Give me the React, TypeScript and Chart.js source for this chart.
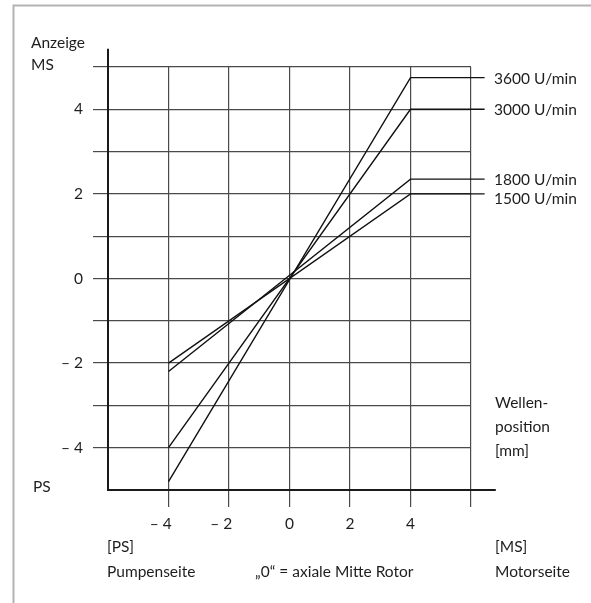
import React, { useEffect, useRef } from "react";
import { Chart, registerables } from "chart.js";

Chart.register(...registerables);

// ---- data ----
const seriesNames = ["3600 U/min", "3000 U/min", "1800 U/min", "1500 U/min"];
const xPositions = [-4, 4, 6.45]; // Wellenposition [mm]; last point = label leader end
const series3600 = [-4.8, 4.75, 4.75];
const series3000 = [-4, 4, 4];
const series1800 = [-2.2, 2.35, 2.35];
const series1500 = [-2, 2, 2];
const seriesValues = [series3600, series3000, series1800, series1500];

const xTickValues = [-4, -2, 0, 2, 4];
const xTickLabels = ["– 4", "– 2", "0", "2", "4"];
const yTickValues = [4, 2, 0, -2, -4];
const yTickLabels = ["4", "2", "0", "– 2", "– 4"];

const FONT = "Lato, 'Open Sans', sans-serif";
const FSIZE = 15.5;
const TEXT = "#1e1e1e";

export default function App() {
  const ref = useRef<HTMLCanvasElement | null>(null);

  useEffect(() => {
    if (!ref.current) return;

    const annotations = {
      id: "annotations",
      beforeDatasetsDraw(chart: any) {
        const { ctx } = chart;
        const x = chart.scales.x;
        const y = chart.scales.y;
        ctx.save();
        ctx.strokeStyle = "#1a1a1a";
        ctx.lineWidth = 2;
        // y axis (extends above plot)
        ctx.beginPath();
        ctx.moveTo(x.getPixelForValue(-6), y.getPixelForValue(5.43));
        ctx.lineTo(x.getPixelForValue(-6), y.getPixelForValue(-5));
        // x axis (extends right of plot)
        ctx.moveTo(x.getPixelForValue(-6) - 1, y.getPixelForValue(-5));
        ctx.lineTo(x.getPixelForValue(6.82), y.getPixelForValue(-5));
        ctx.stroke();
        ctx.restore();
      },
      afterDraw(chart: any) {
        const { ctx } = chart;
        const y = chart.scales.y;
        ctx.save();
        // frame
        ctx.strokeStyle = "#b3b3b3";
        ctx.lineWidth = 2;
        ctx.beginPath();
        ctx.moveTo(13.5, 603);
        ctx.lineTo(13.5, 5.5);
        ctx.lineTo(591, 5.5);
        ctx.stroke();

        ctx.fillStyle = TEXT;
        ctx.font = `${FSIZE}px ${FONT}`;
        ctx.textBaseline = "middle";
        ctx.textAlign = "left";
        // series labels
        seriesNames.forEach((n, i) => {
          const v = seriesValues[i][seriesValues[i].length - 1];
          ctx.fillText(n, 494, y.getPixelForValue(v) + (i === 3 ? 5 : 1));
        });
        ctx.fillText("Anzeige", 31, 43);
        ctx.fillText("MS", 31, 65);
        ctx.fillText("PS", 33, 487);
        ctx.fillText("Wellen-", 495, 403);
        ctx.fillText("position", 495, 427);
        ctx.fillText("[mm]", 495, 451);
        ctx.fillText("[PS]", 107, 547);
        ctx.fillText("Pumpenseite", 107, 572);
        ctx.fillText("„0“ = axiale Mitte Rotor", 255, 572);
        ctx.fillText("[MS]", 495, 547);
        ctx.fillText("Motorseite", 495, 572);
        ctx.restore();
      },
    };

    const chart = new Chart(ref.current, {
      type: "line",
      data: {
        datasets: seriesValues.map((vals, i) => ({
          label: seriesNames[i],
          data: vals.map((v, j) => ({ x: xPositions[j], y: v })),
          borderColor: "#111",
          borderWidth: 1.4,
          pointRadius: 0,
          fill: false,
          tension: 0,
          clip: false as any,
        })),
      },
      options: {
        animation: false,
        responsive: false,
        maintainAspectRatio: false,
        events: [],
        layout: { padding: { top: 67, right: 120, bottom: 0, left: 0 } },
        plugins: {
          legend: { display: false },
          tooltip: { enabled: false },
        },
        scales: {
          x: {
            type: "linear",
            min: -6,
            max: 6,
            afterFit: (s: any) => {
              s.height = 113;
            },
            border: { display: false },
            grid: {
              color: (c: any) => (c.tick && c.tick.value === -6 ? "rgba(0,0,0,0)" : "#4a4a4a"),
              lineWidth: 1.2,
              drawTicks: true,
              tickLength: 17,
            },
            ticks: {
              stepSize: 2,
              autoSkip: false,
              maxRotation: 0,
              padding: 8,
              color: TEXT,
              font: { family: FONT, size: FSIZE },
              callback: (v: any) => {
                const i = xTickValues.indexOf(Number(v));
                if (i < 0) return "";
                const l = xTickLabels[i];
                return l.startsWith("–") ? l + "\u2002\u2002" : l;
              },
            },
          },
          y: {
            type: "linear",
            min: -5,
            max: 5,
            afterFit: (s: any) => {
              s.width = 108;
            },
            border: { display: false },
            grid: {
              color: (c: any) => (c.tick && c.tick.value === -5 ? "rgba(0,0,0,0)" : "#4a4a4a"),
              lineWidth: 1.2,
              drawTicks: true,
              tickLength: 15,
            },
            ticks: {
              stepSize: 1,
              autoSkip: false,
              padding: 10,
              color: TEXT,
              font: { family: FONT, size: FSIZE },
              callback: (v: any) => {
                const i = yTickValues.indexOf(Number(v));
                return i < 0 ? "" : yTickLabels[i];
              },
            },
          },
        },
      },
      plugins: [annotations],
    });
    return () => chart.destroy();
  }, []);

  return (
    <div style={{ position: "fixed", left: 0, top: 0, width: 591, height: 603, background: "#fff" }}>
      <canvas ref={ref} width={591} height={603} style={{ display: "block" }} />
    </div>
  );
}
